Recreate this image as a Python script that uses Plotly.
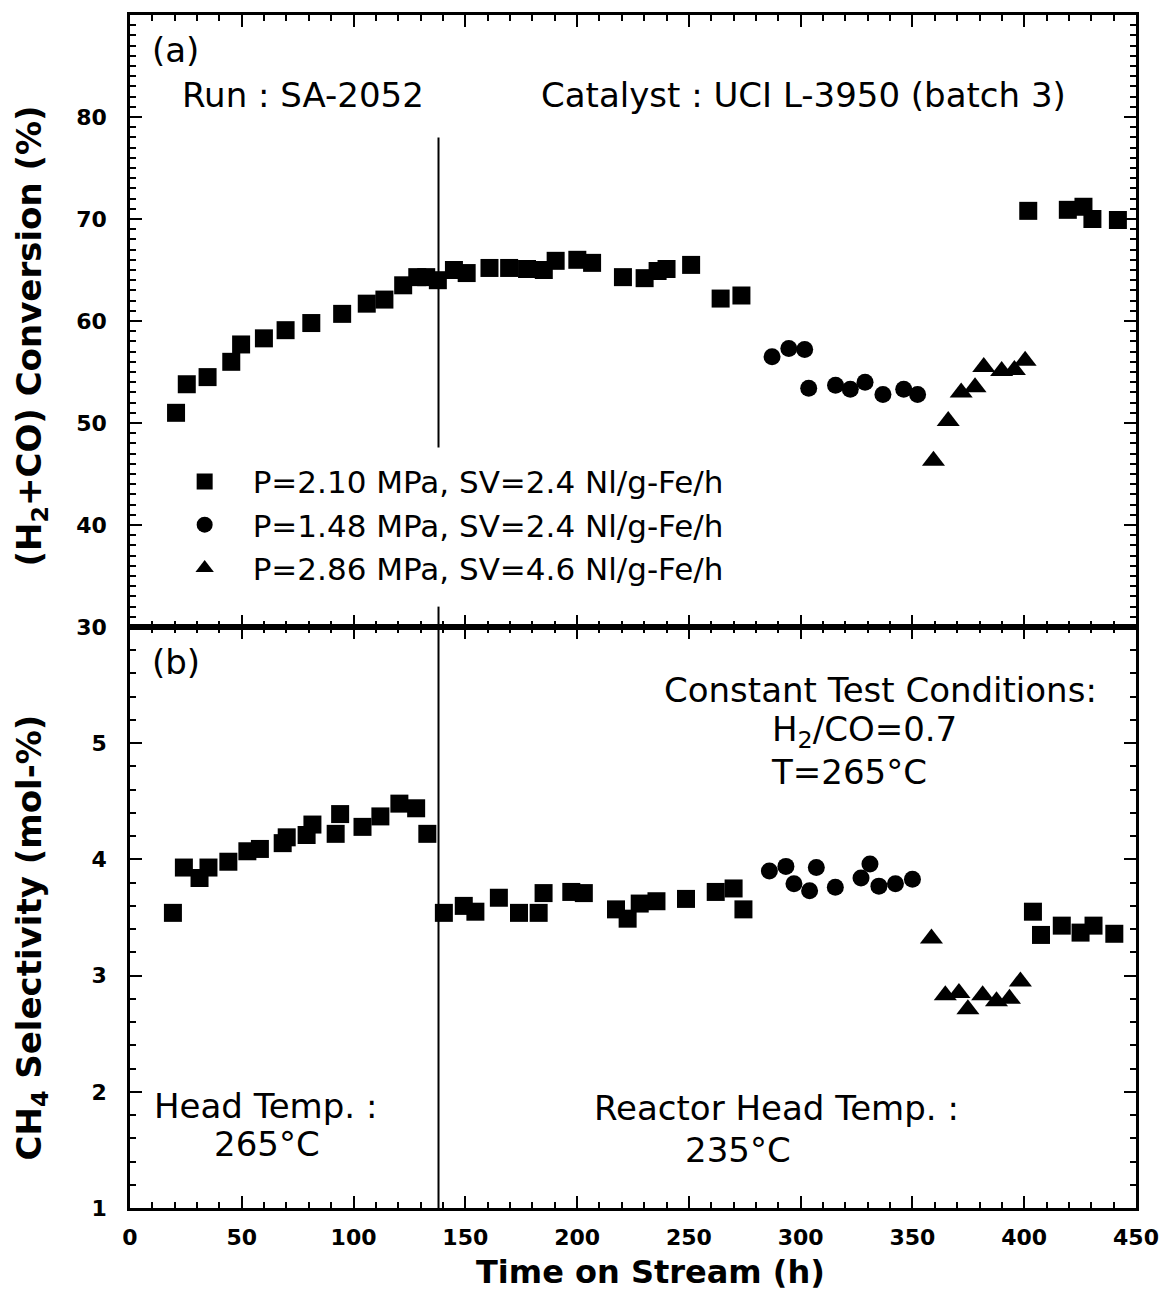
import plotly.graph_objects as go

# ---------------- data ----------------
# (a) (H2+CO) conversion, %
conv_sq_h = [20.6, 25.4, 34.7, 45.3, 49.7, 59.9, 69.6, 81.1, 94.9, 105.9, 113.8, 122.2,
             128.5, 132.5, 137.7, 144.9, 150.6, 160.8, 169.6, 177.6, 185.1, 190.4, 200.1,
             206.7, 220.5, 230.2, 236.0, 240.0, 251.0, 264.2, 273.5, 401.8, 419.5, 426.5,
             430.5, 441.9]
conv_sq_v = [51.0, 53.8, 54.5, 56.0, 57.7, 58.3, 59.1, 59.8, 60.7, 61.7, 62.1, 63.5,
             64.3, 64.3, 64.0, 65.0, 64.7, 65.2, 65.2, 65.1, 65.0, 65.9, 66.0,
             65.7, 64.3, 64.2, 64.9, 65.1, 65.5, 62.2, 62.5, 70.8, 70.9, 71.2,
             70.0, 69.9]
conv_ci_h = [287.2, 294.7, 301.8, 303.6, 315.6, 322.2, 328.8, 336.8, 346.1, 352.3]
conv_ci_v = [56.5, 57.3, 57.2, 53.4, 53.7, 53.3, 54.0, 52.8, 53.3, 52.8]
conv_tr_h = [359.4, 366.0, 371.8, 378.0, 381.9, 389.9, 395.6, 400.4]
conv_tr_v = [46.3, 50.2, 53.0, 53.5, 55.5, 55.1, 55.2, 56.1]

# (b) CH4 selectivity, mol-%
sel_sq_h = [19.2, 24.1, 31.1, 35.1, 44.0, 52.5, 58.1, 68.3, 70.1, 79.0, 81.6, 92.0, 94.0,
            104.0, 112.0, 120.5, 128.0, 133.0, 140.4, 149.3, 154.5, 165.0, 174.0, 182.8,
            185.0, 197.4, 203.0, 217.4, 222.6, 228.0, 235.5, 248.7, 262.0, 270.0, 274.4,
            403.9, 407.5, 416.8, 425.2, 431.0, 440.3]
sel_sq_v = [3.54, 3.93, 3.84, 3.93, 3.98, 4.07, 4.09, 4.14, 4.19, 4.21, 4.30, 4.22, 4.39,
            4.28, 4.37, 4.48, 4.44, 4.22, 3.54, 3.60, 3.55, 3.67, 3.54, 3.54,
            3.71, 3.72, 3.71, 3.57, 3.49, 3.62, 3.64, 3.66, 3.72, 3.75, 3.57,
            3.55, 3.35, 3.43, 3.37, 3.43, 3.36]
sel_ci_h = [286.0, 293.4, 297.0, 304.0, 307.0, 315.5, 327.0, 331.0, 335.0, 342.4, 350.0]
sel_ci_v = [3.90, 3.94, 3.79, 3.73, 3.93, 3.76, 3.84, 3.96, 3.77, 3.79, 3.83]
sel_tr_h = [358.5, 364.7, 370.8, 374.8, 381.4, 387.6, 393.4, 398.3]
sel_tr_v = [3.32, 2.83, 2.85, 2.71, 2.83, 2.78, 2.80, 2.95]

series_names = ["P=2.10 MPa, SV=2.4 Nl/g-Fe/h",
                "P=1.48 MPa, SV=2.4 Nl/g-Fe/h",
                "P=2.86 MPa, SV=4.6 Nl/g-Fe/h"]
x_ticks = [0, 50, 100, 150, 200, 250, 300, 350, 400, 450]
conv_ticks = [30, 40, 50, 60, 70, 80]
sel_ticks = [1, 2, 3, 4, 5]
switch_h = 138   # change of reactor head temperature

# ---------------- styling ----------------
FONT = "DejaVu Sans"
TXT = dict(family=FONT, size=34, color="black")
LEGF = dict(family=FONT, size=31, color="black")
TICKF = dict(family=FONT, size=22, color="black", weight="bold")

fig = go.Figure()
sym = ["square", "circle", "triangle-up"]
sizes = [18, 17, 20]
top = [(conv_sq_h, conv_sq_v), (conv_ci_h, conv_ci_v), (conv_tr_h, conv_tr_v)]
bot = [(sel_sq_h, sel_sq_v), (sel_ci_h, sel_ci_v), (sel_tr_h, sel_tr_v)]
for i, (hx, vy) in enumerate(top):
    fig.add_trace(go.Scatter(x=hx, y=vy, mode="markers", name=series_names[i],
                             marker=dict(symbol=sym[i], size=sizes[i], color="black",
                                         line=dict(width=0)),
                             xaxis="x", yaxis="y", showlegend=True))
for i, (hx, vy) in enumerate(bot):
    fig.add_trace(go.Scatter(x=hx, y=vy, mode="markers", name=series_names[i],
                             marker=dict(symbol=sym[i], size=sizes[i], color="black",
                                         line=dict(width=0)),
                             xaxis="x2", yaxis="y2", showlegend=False))

split = 0.487
common_x = dict(range=[0, 450], tickmode="array", tickvals=x_ticks, ticks="inside",
                ticklen=12, tickwidth=2, tickcolor="black",
                minor=dict(ticks="inside", ticklen=6, tickwidth=1.5, dtick=10, tick0=0,
                           tickcolor="black"),
                showline=True, linewidth=2.5, linecolor="black", mirror="ticks",
                showgrid=False, zeroline=False)
common_y = dict(ticks="inside", ticklen=12, tickwidth=2, tickcolor="black",
                showline=True, linewidth=2.5, linecolor="black", mirror="ticks",
                showgrid=False, zeroline=False, tickfont=TICKF, ticklabelstandoff=16)

fig.update_layout(
    width=1171, height=1294,
    margin=dict(l=130, r=24, t=13, b=86),
    paper_bgcolor="white", plot_bgcolor="white",
    xaxis=dict(**common_x, domain=[0, 1], anchor="y", showticklabels=False),
    yaxis=dict(**common_y, domain=[split, 1], anchor="x", range=[30, 90],
               tickmode="array", tickvals=conv_ticks,
               minor=dict(ticks="inside", ticklen=6, tickwidth=1.5, dtick=1, tick0=30,
                          tickcolor="black")),
    xaxis2=dict(**common_x, domain=[0, 1], anchor="y2", matches="x",
                showticklabels=True, tickfont=TICKF, ticklabelstandoff=8),
    yaxis2=dict(**common_y, domain=[0, split], anchor="x2", range=[1, 6],
                tickmode="array", tickvals=sel_ticks,
                minor=dict(ticks="inside", ticklen=6, tickwidth=1.5, dtick=0.2, tick0=1,
                           tickcolor="black")),
    legend=dict(x=0.0265, y=0.6314, xanchor="left", yanchor="top",
                font=LEGF, bgcolor="rgba(0,0,0,0)", borderwidth=0,
                itemwidth=86, tracegroupgap=0),
    showlegend=True,
)

# vertical separator line (gap behind legend in panel a)
fig.add_shape(type="line", xref="x", yref="y", x0=switch_h, x1=switch_h, y0=47.6, y1=78.0,
              line=dict(color="black", width=2))
fig.add_shape(type="line", xref="x", yref="y", x0=switch_h, x1=switch_h, y0=30, y1=32.0,
              line=dict(color="black", width=2))
fig.add_shape(type="line", xref="x2", yref="y2", x0=switch_h, x1=switch_h, y0=1, y1=6,
              line=dict(color="black", width=2))

def ann(text, x, y, xref, yref, xanchor="left", font=TXT, **kw):
    fig.add_annotation(text=text, x=x, y=y, xref=xref, yref=yref, xanchor=xanchor,
                       yanchor="middle", showarrow=False, font=font, **kw)

# panel (a) texts
ann("(a)", 9, 86.6, "x", "y")
ann("Run : SA-2052", 22.5, 82.2, "x", "y")
ann("Catalyst : UCI L-3950 (batch 3)", 183.0, 82.2, "x", "y")
# panel (b) texts
ann("(b)", 9, 5.70, "x2", "y2")
ann("Constant Test Conditions:", 238, 5.46, "x2", "y2")
ann("H<sub>2</sub>/CO=0.7", 286.5, 5.10, "x2", "y2")
ann("T=265°C", 286.0, 4.75, "x2", "y2")
ann("Head Temp. :", 60.5, 1.88, "x2", "y2", xanchor="center")
ann("265°C", 61.2, 1.55, "x2", "y2", xanchor="center")
ann("Reactor Head Temp. :", 289, 1.86, "x2", "y2", xanchor="center")
ann("235°C", 272, 1.50, "x2", "y2", xanchor="center")

# axis titles
TITLEF = dict(family=FONT, size=34, color="black", weight="bold")
ann("Time on Stream (h)", 0.517, -0.054, "paper", "paper", xanchor="center",
    font=dict(family=FONT, size=32, color="black", weight="bold"))
ann("(H<sub>2</sub>+CO) Conversion (%)", -0.0983, 0.7305, "paper", "paper",
    xanchor="center", font=TITLEF, textangle=-90)
ann("CH<sub>4</sub> Selectivity (mol-%)", -0.0983, 0.2268, "paper", "paper",
    xanchor="center", font=TITLEF, textangle=-90)

fig.write_html("out.html")
